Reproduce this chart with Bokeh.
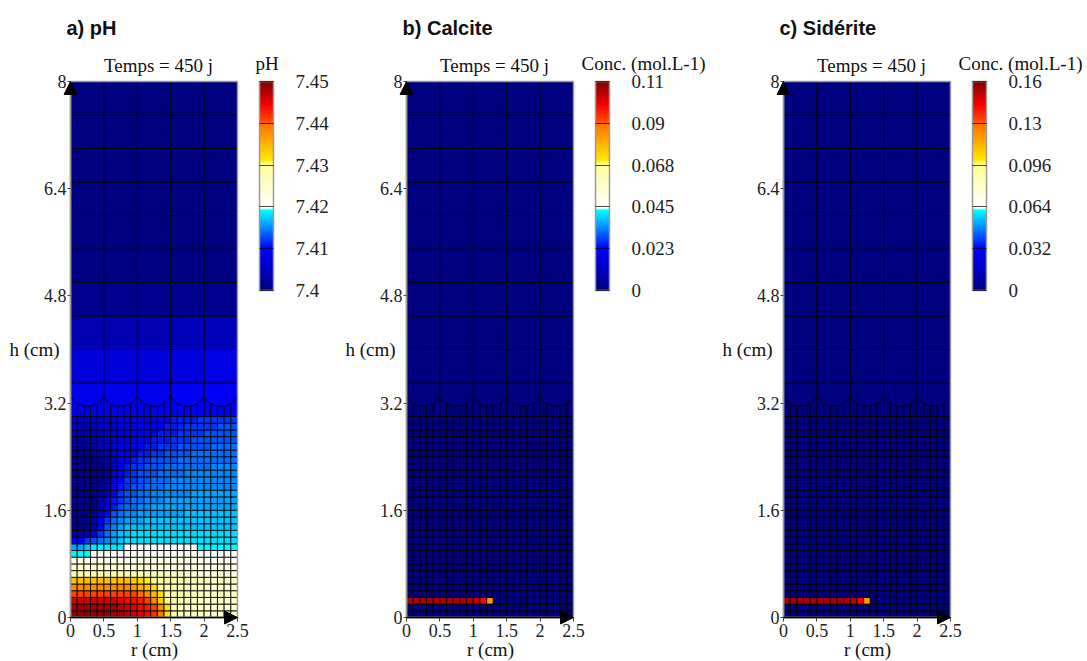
import math
import numpy as np
from bokeh.plotting import figure
from bokeh.layouts import row
from bokeh.models import (ColumnDataSource, LinearColorMapper, ColorBar, FixedTicker,
                          Label, Arrow, NormalHead, Range1d)
from bokeh.transform import transform
from bokeh.embed import file_html
from bokeh.resources import INLINE

# ---------------- mesh (cm) ----------------
r_fine_edges = [0.0, 0.1, 0.2, 0.3, 0.4, 0.5, 0.6, 0.7, 0.8, 0.9, 1.0, 1.1, 1.2, 1.3,
                1.4, 1.5, 1.6, 1.7, 1.8, 1.9, 2.0, 2.1, 2.2, 2.3, 2.4, 2.5]
h_fine_edges = [0.0, 0.1, 0.2, 0.3, 0.4, 0.5, 0.6, 0.7, 0.8, 0.9, 1.0, 1.1, 1.2, 1.3,
                1.4, 1.5, 1.6, 1.7, 1.8, 1.9, 2.0, 2.1, 2.2, 2.3, 2.4, 2.5, 2.6, 2.7,
                2.8, 2.9, 3.0]
r_coarse_edges = [0.0, 0.5, 1.0, 1.5, 2.0, 2.5]
h_coarse_edges = [3.5, 4.0, 4.5, 5.0, 5.5, 6.0, 6.5, 7.0, 7.5, 8.0]
h_transition_edges = [3.0, 3.5]

# ---------------- pH values (pH - 7.40, in 1/1000 units), rows bottom -> top ----------------
ph_base = 7.40
ph_fine_milli = [
    [49, 49, 49, 49, 49, 49, 48, 48, 47, 46, 45, 44, 42, 39, 32, 28, 27, 27, 26, 26, 26, 25, 25, 25, 25],
    [48, 48, 48, 48, 48, 48, 48, 47, 46, 45, 44, 43, 41, 38, 32, 28, 27, 27, 26, 26, 26, 25, 25, 25, 25],
    [46, 46, 46, 46, 46, 46, 46, 45, 44, 44, 43, 41, 38, 33, 29, 28, 27, 27, 26, 26, 26, 25, 25, 25, 25],
    [41, 41, 41, 41, 41, 41, 41, 41, 41, 41, 40, 38, 35, 32, 29, 28, 27, 27, 26, 26, 26, 25, 25, 25, 25],
    [38, 38, 38, 38, 38, 38, 38, 38, 38, 37, 35, 34, 32, 29, 28, 28, 27, 27, 26, 26, 26, 25, 25, 25, 25],
    [34, 34, 34, 34, 34, 34, 34, 34, 34, 33, 32, 31, 29, 28, 28, 27, 27, 27, 26, 26, 26, 25, 25, 25, 25],
    [28, 28, 28, 28, 28, 28, 28, 28, 28, 28, 27, 27, 27, 26, 26, 25, 25, 25, 24, 24, 24, 24, 24, 24, 24],
    [25, 25, 25, 25, 25, 25, 25, 24, 24, 24, 24, 24, 24, 24, 24, 23, 23, 23, 23, 23, 23, 23, 23, 23, 23],
    [22, 22, 22, 22, 22, 22, 22, 22, 22, 22, 22, 22, 22, 22, 22, 22, 22, 22, 22, 22, 21, 21, 21, 21, 21],
    [19, 19, 19, 20, 20, 20, 20, 20, 20, 20, 20, 20, 20, 20, 20, 20, 20, 20, 20, 20, 20, 20, 20, 20, 20],
    [16, 16, 17, 18.5, 18.5, 18.5, 18.5, 18.5, 20, 20, 20, 20, 20, 20, 20, 20, 20, 20, 20, 19, 19, 19, 19, 19, 19],
    [9, 10, 12, 13, 14, 15, 16, 17, 18, 18, 18, 18, 18, 18, 18, 18, 18, 18, 18, 18, 18, 18, 18, 18, 18],
    [2, 3, 5, 9, 12, 14, 16, 17, 17, 18, 18, 18, 18, 18, 18, 18, 18, 18, 18, 18, 18, 18, 18, 18, 18],
    [1, 1, 2, 5, 10, 13, 15, 16, 17, 17, 17, 17, 17, 17, 17, 17, 17, 17, 17, 17, 17, 17, 17, 17, 17],
    [1, 1, 2, 4, 9, 12, 14, 15, 16, 16, 16, 17, 17, 17, 17, 17, 17, 17, 17, 17, 17, 17, 17, 17, 17],
    [1, 1, 1, 2, 6, 10, 13, 14, 15, 15, 16, 16, 16, 16, 16, 16, 16, 17, 17, 17, 17, 17, 17, 17, 17],
    [1, 1, 1, 1, 4, 9, 11, 13, 14, 14, 15, 15, 16, 16, 16, 16, 16, 16, 16, 16, 16, 16, 16, 16, 16],
    [1, 1, 1, 1, 3, 7, 11, 12, 13, 14, 14, 15, 15, 15, 16, 16, 16, 16, 16, 16, 16, 16, 16, 16, 16],
    [1, 1, 1, 1, 2, 5, 10, 12, 13, 13, 14, 14, 15, 15, 15, 15, 15, 15, 16, 16, 16, 16, 16, 16, 16],
    [1, 1, 1, 1, 2, 4, 9, 11, 12, 13, 13, 14, 14, 14, 15, 15, 15, 15, 15, 15, 15, 15, 15, 15, 15],
    [1, 1, 1, 1, 1, 3, 8, 10, 12, 12, 13, 13, 14, 14, 14, 15, 15, 15, 15, 15, 15, 15, 15, 15, 15],
    [1, 1, 1, 1, 1, 3, 7, 10, 11, 12, 13, 13, 13, 14, 14, 14, 14, 15, 15, 15, 15, 15, 15, 15, 15],
    [1, 1, 1, 1, 1, 3, 6, 9, 11, 12, 12, 13, 13, 13, 14, 14, 14, 14, 14, 14, 14, 15, 15, 15, 15],
    [1, 1, 1, 1, 2, 3, 6, 9, 10, 11, 12, 12, 13, 13, 13, 13, 14, 14, 14, 14, 14, 14, 14, 14, 14],
    [2, 2, 2, 3, 4, 5, 7, 8, 9, 10, 11, 11, 12, 12, 13, 13, 13, 13, 14, 14, 14, 14, 14, 14, 14],
    [2, 2, 3, 4, 5, 6, 7, 8, 9, 9, 10, 11, 11, 12, 12, 12, 13, 13, 13, 13, 13, 14, 14, 14, 14],
    [3, 3, 4, 4, 5, 6, 7, 7, 8, 9, 10, 10, 11, 11, 11, 12, 12, 12, 13, 13, 13, 13, 13, 13, 13],
    [4, 4, 5, 5, 6, 6, 7, 8, 8, 9, 9, 10, 10, 11, 11, 11, 12, 12, 12, 12, 13, 13, 13, 13, 13],
    [5, 5, 5, 6, 6, 7, 7, 8, 8, 9, 9, 10, 10, 10, 11, 11, 11, 12, 12, 12, 12, 12, 13, 13, 13],
    [6, 6, 6, 6, 7, 7, 8, 8, 8, 9, 9, 9, 10, 10, 10, 11, 11, 11, 11, 12, 12, 12, 12, 12, 12],
]
ph_transition_milli = [8.5, 8.5, 8.5, 9, 9]
ph_coarse_milli = [
    [7, 7, 7, 7.5, 8],
    [4, 4, 4, 4.5, 4.5],
    [1.2, 1.2, 1.2, 1.2, 1.2],
    [0.3, 0.3, 0.3, 0.3, 0.3],
    [0, 0, 0, 0, 0],
    [0, 0, 0, 0, 0],
    [0, 0, 0, 0, 0],
    [0, 0, 0, 0, 0],
    [0, 0, 0, 0, 0],
]

# ---------------- mineral concentrations (mol/L): only the row h = 0.2-0.3 cm is non-zero ----------------
mineral_row_index = 2
calcite_row = [0.108, 0.108, 0.108, 0.108, 0.108, 0.108, 0.108, 0.108, 0.108, 0.107, 0.106, 0.099, 0.083]
siderite_row = [0.154, 0.154, 0.154, 0.154, 0.154, 0.154, 0.154, 0.154, 0.154, 0.153, 0.151, 0.141, 0.118]

# ---------------- ticks ----------------
x_ticks = [0, 0.5, 1, 1.5, 2, 2.5]
x_tick_labels = ["0", "0.5", "1", "1.5", "2", "2.5"]
y_ticks = [0, 1.6, 3.2, 4.8, 6.4, 8]
y_tick_labels = ["0", "1.6", "3.2", "4.8", "6.4", "8"]
ph_ticks = [7.40, 7.41, 7.42, 7.43, 7.44, 7.45]
ph_tick_labels = ["7.4", "7.41", "7.42", "7.43", "7.44", "7.45"]
calcite_ticks = [0, 0.0225, 0.045, 0.0675, 0.09, 0.1125]
calcite_tick_labels = ["0", "0.023", "0.045", "0.068", "0.09", "0.11"]
siderite_ticks = [0, 0.032, 0.064, 0.096, 0.128, 0.16]
siderite_tick_labels = ["0", "0.032", "0.064", "0.096", "0.13", "0.16"]

SERIF = "Liberation Serif"
SANS = "Liberation Sans"

# ---------------- layout (pixels inside each panel figure) ----------------
FIG_H = 660
OX, OY = 70, 617          # pixel of data origin (r=0, h=0) from figure top-left
PX_X = 167 / 2.5          # px per cm, horizontal
PX_Y = 536 / 8.0          # px per cm, vertical

# ---------------- colour map ----------------
_stops = [
    (0.000, (0, 0, 128)), (0.200, (0, 0, 255)), (0.385, (0, 255, 255)),
    (0.392, (255, 255, 255)), (0.400, (255, 255, 255)), (0.600, (255, 255, 150)),
    (0.610, (255, 250, 110)), (0.625, (255, 232, 0)), (0.800, (255, 110, 0)),
    (0.805, (255, 80, 0)), (0.890, (245, 0, 0)), (1.000, (128, 0, 0)),
]
_t = np.linspace(0, 1, 512)
_st = [s[0] for s in _stops]
_ch = [np.interp(_t, _st, [s[1][k] for s in _stops]) for k in range(3)]
PALETTE = ["#%02x%02x%02x" % (int(round(a)), int(round(b)), int(round(c)))
           for a, b, c in zip(*_ch)]

# ---------------- transition arcs geometry ----------------
arc_edge_h = 3.30
arc_mid_h = 3.15
half_w = 0.25
sag = arc_edge_h - arc_mid_h
arc_R = (half_w ** 2 + sag ** 2) / (2 * sag)
arc_cy = arc_mid_h + arc_R
arc_a0 = math.atan2(arc_edge_h - arc_cy, -half_w)
arc_a1 = math.atan2(arc_edge_h - arc_cy, half_w)


def cells(r_edges, h_edges, vals):
    L, R, B, T, V = [], [], [], [], []
    for j in range(len(h_edges) - 1):
        for i in range(len(r_edges) - 1):
            L.append(r_edges[i]); R.append(r_edges[i + 1])
            B.append(h_edges[j]); T.append(h_edges[j + 1])
            V.append(vals[j][i])
    return ColumnDataSource(dict(left=L, right=R, bottom=B, top=T, val=V))


def make_panel(fig_w, title, fine, trans, coarse, low, high, cb_ticks, cb_labels,
               cb_title, cb_title_x):
    x0 = -OX / PX_X
    x1 = (fig_w - OX) / PX_X
    y0 = -(FIG_H - OY) / PX_Y
    y1 = OY / PX_Y
    p = figure(width=fig_w, height=FIG_H,
               x_range=Range1d(x0, x1), y_range=Range1d(y0, y1),
               output_backend="svg", toolbar_location=None,
               min_border=0, min_border_left=0, min_border_right=0,
               min_border_top=0, min_border_bottom=0)
    p.grid.visible = False
    p.outline_line_color = None

    mapper = LinearColorMapper(palette=PALETTE, low=low, high=high,
                               low_color=PALETTE[0], high_color=PALETTE[-1])
    fill = transform("val", mapper)
    kw = dict(line_color="black", line_width=1, line_alpha=0.85)

    p.quad(left="left", right="right", bottom="bottom", top="top", fill_color=fill,
           source=cells(r_fine_edges, h_fine_edges, fine), **kw)
    p.quad(left="left", right="right", bottom="bottom", top="top", fill_color=fill,
           source=cells(r_coarse_edges, h_transition_edges, [trans]), **kw)
    p.quad(left="left", right="right", bottom="bottom", top="top", fill_color=fill,
           source=cells(r_coarse_edges, h_coarse_edges, coarse), **kw)

    # scalloped transition between fine and coarse mesh
    centers = [(a + b) / 2 for a, b in zip(r_coarse_edges[:-1], r_coarse_edges[1:])]
    p.arc(x=centers, y=[arc_cy] * len(centers), radius=arc_R,
          start_angle=arc_a0, end_angle=arc_a1, **kw)
    xs, tops = [], []
    for x in r_fine_edges[1:-1]:
        if any(abs(x - e) < 1e-9 for e in r_coarse_edges):
            continue
        cx = min(centers, key=lambda c: abs(c - x))
        xs.append(x)
        tops.append(arc_cy - math.sqrt(arc_R ** 2 - (x - cx) ** 2))
    p.segment(x0=xs, y0=[h_transition_edges[0]] * len(xs), x1=xs, y1=tops, **kw)

    # grey frame around the domain
    p.quad(left=[r_fine_edges[0]], right=[r_fine_edges[-1]], bottom=[h_fine_edges[0]],
           top=[h_coarse_edges[-1]], fill_alpha=0, line_color="#9a9a9a", line_width=1.5)

    # axes fixed at r = 0 and h = 0
    for ax, ticks, labels, bounds in ((p.xaxis, x_ticks, x_tick_labels, (r_fine_edges[0], r_fine_edges[-1])),
                                      (p.yaxis, y_ticks, y_tick_labels, (h_fine_edges[0], h_coarse_edges[-1]))):
        ax.fixed_location = 0
        ax.bounds = bounds
        ax.ticker = FixedTicker(ticks=ticks)
        ax.major_label_overrides = dict(zip(ticks, labels))
        ax.major_label_text_font = SERIF
        ax.major_label_text_font_size = "18px"
        ax.major_label_text_color = "#222222"
        ax.minor_tick_line_color = None
        ax.major_tick_in = 0
        ax.major_tick_line_color = "#444444"
        ax.axis_line_color = "#9a9a9a"
        ax.axis_line_width = 1.5
    p.xaxis.major_tick_out = 4
    p.xaxis.major_label_standoff = 2
    p.yaxis.major_tick_out = 3
    p.yaxis.major_label_standoff = 1

    p.add_layout(Arrow(end=NormalHead(size=13, fill_color="black", line_color="black"),
                       x_start=0, y_start=0, x_end=0, y_end=8, line_alpha=0))
    p.add_layout(Arrow(end=NormalHead(size=13, fill_color="black", line_color="black"),
                       x_start=0, y_start=0, x_end=2.5, y_end=0,
                       line_color="black", line_width=1.5))

    cb = ColorBar(color_mapper=mapper, ticker=FixedTicker(ticks=cb_ticks),
                  major_label_overrides=dict(zip(cb_ticks, cb_labels)),
                  location=(OX + 189, FIG_H - 290), width=14, height=209, padding=0,
                  orientation="vertical", title=None,
                  major_tick_in=14, major_tick_out=0, major_tick_line_color="black",
                  major_tick_line_alpha=0.7, minor_tick_line_color=None,
                  bar_line_color="#9a9a9a", bar_line_width=1.5, label_standoff=22,
                  major_label_text_font=SERIF, major_label_text_font_size="19px",
                  major_label_text_color="#222222",
                  background_fill_alpha=0, border_line_color=None)
    p.add_layout(cb)

    def lab(text, px, py, font=SERIF, size="19px", align="left", baseline="alphabetic", style="normal"):
        # px, py: pixel position from the figure's top-left corner
        p.add_layout(Label(x=px, y=FIG_H - py, x_units="screen", y_units="screen", text=text,
                           text_font=font, text_font_size=size, text_align=align,
                           text_baseline=baseline, text_font_style=style, text_color="#111111"))

    lab(title, OX - 4, 27, font=SANS, size="20px", style="bold")
    lab("Temps = 450 j", OX + 88, 65, align="center")
    lab(cb_title, OX + cb_title_x, 63)
    lab("h (cm)", OX - 61, 349, baseline="middle")
    lab("r (cm)", OX + 84, 649, align="center")
    return p


ph_fine = [[ph_base + v / 1000 for v in r] for r in ph_fine_milli]
ph_trans = [ph_base + v / 1000 for v in ph_transition_milli]
ph_coarse = [[ph_base + v / 1000 for v in r] for r in ph_coarse_milli]


def mineral_grid(row_vals):
    g = [[0.0] * (len(r_fine_edges) - 1) for _ in range(len(h_fine_edges) - 1)]
    for i, v in enumerate(row_vals):
        g[mineral_row_index][i] = v
    return g


zeros_trans = [0.0] * 5
zeros_coarse = [[0.0] * 5 for _ in range(len(h_coarse_edges) - 1)]

pa = make_panel(336, "a) pH", ph_fine, ph_trans, ph_coarse, 7.40, 7.45,
                ph_ticks, ph_tick_labels, "pH", 185)
pb = make_panel(377, "b) Calcite", mineral_grid(calcite_row), zeros_trans, zeros_coarse, 0, 0.1125,
                calcite_ticks, calcite_tick_labels, "Conc. (mol.L-1)", 175)
pc = make_panel(373, "c) Sidérite", mineral_grid(siderite_row), zeros_trans, zeros_coarse, 0, 0.16,
                siderite_ticks, siderite_tick_labels, "Conc. (mol.L-1)", 175)

layout = row(pa, pb, pc)
open("out.html", "w").write(file_html(layout, INLINE))
